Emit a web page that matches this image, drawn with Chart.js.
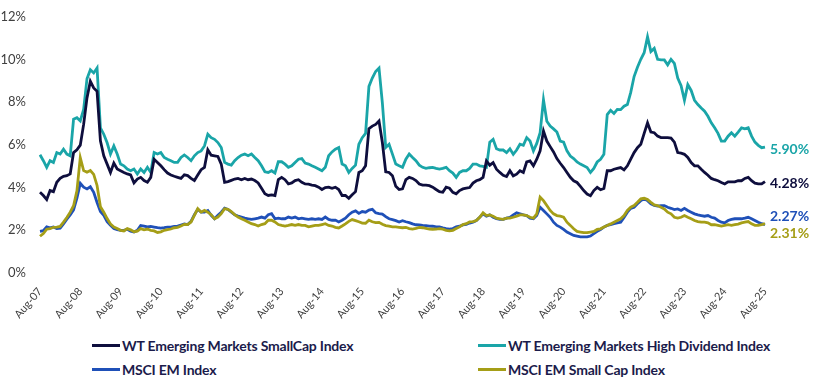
<!DOCTYPE html>
<html>
<head>
<meta charset="utf-8">
<script src="https://cdn.jsdelivr.net/npm/chart.js@4.4.1/dist/chart.umd.min.js"></script>
<style>
  body { margin: 0; background: #fff; font-family: Lato, 'Noto Sans', sans-serif; overflow: hidden; }
  #wrap { position: relative; width: 814px; height: 384px; overflow: hidden; }
  #chartBox { position: absolute; left: 0; top: -5px; width: 814px; height: 335px; }
  #legend { position: absolute; left: 92px; top: 335px; display: grid; grid-template-columns: 386px auto; row-gap: 4px; }
  .item { display: flex; align-items: center; height: 20px; font-weight: 700; font-size: 14px; letter-spacing: -0.2px; color: #1b1b4b; white-space: nowrap; }
  .swatch { width: 28px; height: 3px; margin-right: 2px; }
</style>
</head>
<body>
<div id="wrap">
  <div id="chartBox"><canvas id="chart"></canvas></div>
  <div id="legend"></div>
</div>
<script>
// Monthly series, Aug-07 .. Aug-25
const monthNames = ['Jan', 'Feb', 'Mar', 'Apr', 'May', 'Jun', 'Jul', 'Aug', 'Sep', 'Oct', 'Nov', 'Dec'];
const startYear = 2007;
const startMonth = 7; // August
const monthCount = 217;

// Only these categories get a label on the x axis
const tickLabels = ['Aug-07', 'Aug-08', 'Aug-09', 'Aug-10', 'Aug-11', 'Aug-12', 'Aug-13', 'Aug-14', 'Aug-15',
  'Aug-16', 'Aug-17', 'Aug-18', 'Aug-19', 'Aug-20', 'Aug-21', 'Aug-22', 'Aug-23', 'Aug-24', 'Aug-25'];

const seriesNames = [
  'WT Emerging Markets SmallCap Index',
  'WT Emerging Markets High Dividend Index',
  'MSCI EM Index',
  'MSCI EM Small Cap Index'
];

// WT Emerging Markets SmallCap Index
const wtSmallCap = [
  3.78, 3.63, 3.44, 3.86, 3.81, 4.25, 4.43, 4.53, 4.56, 4.64, 5.64, 5.77,
  5.99, 6.96, 8.2, 8.98, 8.67, 8.51, 6.19, 5.49, 5.1, 4.71, 5.15, 4.87,
  4.79, 4.71, 4.64, 4.59, 4.22, 4.4, 4.48, 4.33, 4.25, 4.48, 5.33, 5.18,
  5.02, 4.84, 4.68, 4.59, 4.53, 4.48, 4.43, 4.6, 4.56, 4.43, 4.33, 4.59,
  4.84, 4.95, 5.77, 5.52, 5.49, 5.46, 5.1, 4.25, 4.28, 4.34, 4.4, 4.43,
  4.37, 4.43, 4.37, 4.4, 4.33, 4.22, 3.97, 3.71, 3.63, 3.66, 3.63, 4.37,
  4.48, 4.37, 4.17, 4.22, 4.33, 4.37, 4.25, 4.17, 4.16, 4.12, 4.09, 4.02,
  3.91, 4.0, 4.02, 3.97, 4.02, 3.91, 3.63, 3.63, 3.5, 3.66, 3.81, 4.71,
  4.79, 5.02, 6.76, 6.88, 6.96, 7.12, 6.11, 4.74, 4.71, 4.56, 4.06, 3.91,
  3.94, 4.37, 4.48, 4.43, 4.33, 4.17, 4.12, 4.12, 4.09, 4.02, 3.91, 3.81,
  3.78, 4.02, 3.97, 3.78, 3.71, 3.86, 3.94, 3.97, 4.0, 4.21, 4.32, 4.37,
  4.48, 5.25, 5.05, 5.17, 4.86, 4.71, 4.58, 4.52, 4.79, 4.55, 4.63, 4.79,
  4.71, 5.2, 5.25, 5.02, 5.33, 5.72, 6.65, 6.18, 5.92, 5.67, 5.36, 5.14,
  4.94, 4.71, 4.48, 4.32, 4.24, 4.06, 3.86, 3.7, 3.62, 3.86, 4.01, 3.9,
  3.96, 4.79, 4.79, 4.86, 4.9, 4.94, 4.83, 5.02, 5.33, 5.64, 5.87, 6.03,
  6.54, 7.03, 6.6, 6.57, 6.41, 6.34, 6.34, 6.34, 6.32, 6.13, 5.64, 5.61,
  5.56, 5.41, 5.17, 5.02, 5.02, 4.86, 4.71, 4.58, 4.43, 4.37, 4.32, 4.24,
  4.17, 4.27, 4.27, 4.27, 4.32, 4.32, 4.43, 4.48, 4.32, 4.21, 4.17, 4.17,
  4.28
];

// WT Emerging Markets High Dividend Index
const wtHighDividend = [
  5.54, 5.26, 4.95, 5.26, 5.18, 5.64, 5.57, 5.8, 5.57, 5.49, 7.2, 7.27,
  7.12, 7.66, 9.1, 9.52, 9.37, 9.6, 6.8, 6.5, 6.1, 5.57, 5.95, 5.57,
  5.1, 5.02, 4.87, 4.79, 4.87, 4.64, 4.87, 4.71, 4.95, 4.71, 5.64, 5.57,
  5.64, 5.41, 5.33, 5.26, 5.18, 5.18, 5.41, 5.53, 5.41, 5.26, 5.49, 5.64,
  5.72, 5.95, 6.5, 6.34, 6.26, 6.11, 5.88, 5.18, 5.1, 5.05, 5.26, 5.41,
  5.52, 5.57, 5.49, 5.57, 5.41, 5.26, 5.02, 4.74, 4.71, 4.79, 4.68, 5.21,
  5.21, 5.1, 4.95, 5.02, 5.18, 5.33, 5.36, 5.15, 5.1, 5.02, 4.95, 4.87,
  4.79, 4.95, 5.49, 5.67, 5.8, 5.88, 5.1, 5.02, 4.71, 4.9, 5.05, 6.03,
  6.34, 6.54, 8.74, 9.13, 9.44, 9.6, 7.97, 5.88, 6.03, 5.57, 5.1, 5.02,
  4.95, 5.33, 5.57, 5.41, 5.26, 5.05, 4.95, 4.9, 4.93, 4.95, 4.9, 4.87,
  4.9, 4.95, 4.79, 4.68, 4.48, 4.71, 4.79, 4.79, 4.9, 5.1, 5.1, 5.02,
  4.99, 4.95, 6.13, 6.26, 5.82, 5.76, 5.76, 5.64, 5.82, 5.56, 5.76, 6.03,
  5.98, 6.34, 6.18, 5.72, 6.07, 6.57, 8.12, 7.11, 6.88, 6.75, 6.6, 6.18,
  6.13, 5.72, 5.48, 5.36, 5.2, 5.1, 5.02, 4.94, 4.71, 4.9, 5.2, 5.33,
  5.56, 7.42, 7.62, 7.47, 7.66, 7.65, 7.81, 7.89, 8.46, 9.2, 9.64, 10.01,
  10.32, 11.06, 10.37, 10.52, 10.01, 9.98, 9.98, 9.75, 10.01, 9.82, 9.13, 8.77,
  8.09, 8.82, 8.55, 8.09, 7.89, 7.73, 7.58, 7.34, 7.03, 6.8, 6.54, 6.18,
  6.18, 6.41, 6.57, 6.41, 6.6, 6.8, 6.75, 6.8, 6.41, 6.13, 5.98, 5.87,
  5.90
];

// MSCI EM Index
const msciEm = [
  1.95, 1.98, 2.16, 2.12, 2.16, 2.08, 2.1, 2.3, 2.52, 2.72, 2.95, 3.5,
  4.2, 4.02, 3.94, 4.04, 3.78, 3.3, 2.88, 2.7, 2.4, 2.23, 2.08, 2.03,
  2.0, 2.0, 2.05, 1.96, 1.92, 2.0, 2.22, 2.2, 2.16, 2.18, 2.15, 2.12,
  2.1, 2.12, 2.15, 2.15, 2.18, 2.2, 2.25, 2.3, 2.27, 2.42, 2.73, 2.98,
  2.85, 2.85, 2.93, 2.7, 2.54, 2.7, 2.85, 3.04, 2.98, 2.85, 2.73, 2.67,
  2.62, 2.57, 2.54, 2.51, 2.54, 2.57, 2.62, 2.57, 2.73, 2.78, 2.54, 2.57,
  2.54, 2.54, 2.62, 2.57, 2.62, 2.54, 2.57, 2.54, 2.51, 2.54, 2.51, 2.54,
  2.51, 2.62, 2.51, 2.47, 2.48, 2.39, 2.47, 2.57, 2.73, 2.85, 2.91, 2.79,
  2.88, 2.85, 2.95, 2.98, 2.82, 2.78, 2.76, 2.64, 2.54, 2.5, 2.45, 2.39,
  2.45, 2.4, 2.36, 2.3, 2.26, 2.25, 2.23, 2.22, 2.2, 2.19, 2.16, 2.16,
  2.11, 2.08, 2.06, 2.08, 2.16, 2.19, 2.25, 2.28, 2.34, 2.38, 2.46, 2.61,
  2.77, 2.66, 2.72, 2.61, 2.54, 2.51, 2.51, 2.57, 2.61, 2.72, 2.82, 2.77,
  2.72, 2.69, 2.57, 2.54, 2.69, 3.08, 2.93, 2.77, 2.61, 2.38, 2.23, 2.15,
  2.04, 1.92, 1.84, 1.76, 1.73, 1.69, 1.69, 1.69, 1.73, 1.84, 1.95, 2.04,
  2.15, 2.23, 2.26, 2.31, 2.35, 2.38, 2.6, 2.85, 3.03, 3.08, 3.24, 3.39,
  3.47, 3.39, 3.24, 3.16, 3.13, 3.16, 3.16, 3.08, 3.03, 2.97, 3.0, 2.93,
  3.03, 2.93, 2.85, 2.77, 2.72, 2.69, 2.66, 2.69, 2.61, 2.57, 2.46, 2.38,
  2.35, 2.46, 2.51, 2.54, 2.54, 2.54, 2.57, 2.61, 2.54, 2.46, 2.38, 2.31,
  2.27
];

// MSCI EM Small Cap Index
const msciEmSmallCap = [
  1.72, 1.85, 2.05, 2.08, 2.14, 2.15, 2.18, 2.38, 2.6, 2.85, 3.15, 3.85,
  5.4, 4.8, 4.72, 4.8, 4.62, 4.1, 3.1, 2.85, 2.55, 2.3, 2.15, 2.08,
  2.0, 1.97, 2.08, 2.02, 1.93, 1.96, 2.08, 2.02, 2.06, 2.0, 1.97, 1.9,
  1.93, 2.0, 2.03, 2.06, 2.12, 2.14, 2.2, 2.28, 2.27, 2.39, 2.7, 3.01,
  2.85, 2.93, 2.85, 2.73, 2.54, 2.62, 2.78, 3.01, 2.98, 2.88, 2.73, 2.62,
  2.54, 2.47, 2.39, 2.31, 2.27, 2.2, 2.27, 2.31, 2.47, 2.47, 2.39, 2.27,
  2.23, 2.2, 2.23, 2.27, 2.23, 2.27, 2.23, 2.23, 2.16, 2.2, 2.23, 2.23,
  2.27, 2.31, 2.23, 2.2, 2.14, 2.11, 2.2, 2.3, 2.42, 2.5, 2.45, 2.4,
  2.34, 2.33, 2.47, 2.4, 2.36, 2.37, 2.28, 2.22, 2.19, 2.16, 2.16, 2.14,
  2.12, 2.14, 2.08, 2.06, 2.09, 2.14, 2.12, 2.09, 2.06, 2.05, 2.06, 2.08,
  2.05, 2.0, 1.97, 2.0, 2.08, 2.16, 2.27, 2.31, 2.39, 2.41, 2.46, 2.61,
  2.82, 2.69, 2.72, 2.66, 2.57, 2.54, 2.51, 2.57, 2.57, 2.61, 2.66, 2.72,
  2.72, 2.69, 2.61, 2.57, 2.77, 3.55, 3.39, 3.16, 2.93, 2.77, 2.69, 2.66,
  2.61, 2.38, 2.23, 2.07, 1.95, 1.92, 1.89, 1.89, 1.92, 1.95, 2.04, 2.07,
  2.15, 2.23, 2.3, 2.38, 2.46, 2.54, 2.69, 2.93, 3.08, 3.16, 3.31, 3.47,
  3.5, 3.44, 3.31, 3.19, 3.16, 3.08, 3.0, 2.85, 2.77, 2.61, 2.57, 2.61,
  2.69, 2.61, 2.54, 2.46, 2.41, 2.38, 2.38, 2.35, 2.26, 2.26, 2.23, 2.2,
  2.23, 2.26, 2.23, 2.26, 2.29, 2.35, 2.38, 2.41, 2.3, 2.23, 2.23, 2.26,
  2.31
];

const colors = ['#0e0e3d', '#1aa5a8', '#1f50b8', '#a59e17'];

// Build month categories, e.g. "Aug-07"
const categories = [];
for (let i = 0; i < monthCount; i++) {
  const m = (startMonth + i) % 12;
  const y = startYear + Math.floor((startMonth + i) / 12);
  categories.push(monthNames[m] + '-' + String(y).slice(2));
}

// Value labels at the end of each line (vertical nudge so they don't collide)
const endLabelNudge = [2, 2, -8, 10];
const endLabels = {
  id: 'endLabels',
  afterDatasetsDraw(chart) {
    const ctx = chart.ctx;
    ctx.save();
    ctx.font = 'bold 14px Lato, sans-serif';
    ctx.textBaseline = 'middle';
    ctx.textAlign = 'left';
    chart.data.datasets.forEach((ds, i) => {
      const meta = chart.getDatasetMeta(i);
      const last = meta.data[meta.data.length - 1];
      const value = ds.data[ds.data.length - 1];
      ctx.fillStyle = ds.borderColor;
      ctx.fillText(value.toFixed(2) + '%', last.x + 5, last.y + endLabelNudge[i]);
    });
    ctx.restore();
  }
};

const allSeries = [wtSmallCap, wtHighDividend, msciEm, msciEmSmallCap];
// olive drawn on top, then blue, navy, teal
const drawOrder = [2, 3, 1, 0];

const datasets = allSeries.map((values, i) => ({
  label: seriesNames[i],
  data: values,
  borderColor: colors[i],
  backgroundColor: colors[i],
  borderWidth: 2.8,
  pointRadius: 0,
  tension: 0,
  order: drawOrder[i]
}));

new Chart(document.getElementById('chart'), {
  type: 'line',
  data: { labels: categories, datasets: datasets },
  options: {
    responsive: true,
    maintainAspectRatio: false,
    animation: false,
    layout: { padding: { top: 5, right: 49, left: 0, bottom: 0 } },
    plugins: {
      legend: { display: false },
      tooltip: { enabled: false }
    },
    scales: {
      x: {
        grid: { display: false, drawTicks: false },
        border: { display: false },
        afterFit(scale) { scale.height = 57; },
        ticks: {
          autoSkip: false,
          maxRotation: 50,
          minRotation: 50,
          padding: 12,
          color: '#404040',
          font: { family: 'Lato', size: 11 },
          callback(value) {
            const label = this.getLabelForValue(value);
            return tickLabels.includes(label) ? label : null;
          }
        }
      },
      y: {
        min: 0,
        max: 12,
        grid: { display: false, drawTicks: false },
        border: { display: false },
        afterFit(scale) { scale.width = 40; },
        ticks: {
          stepSize: 2,
          padding: 14,
          color: '#404040',
          font: { family: 'Lato', size: 13 },
          callback: v => v + '%'
        }
      }
    }
  },
  plugins: [endLabels]
});

// Legend in two columns under the chart
const legendEl = document.getElementById('legend');
seriesNames.forEach((name, i) => {
  const item = document.createElement('div');
  item.className = 'item';
  item.innerHTML = `<span class="swatch" style="background:${colors[i]}"></span>${name}`;
  legendEl.appendChild(item);
});
</script>
</body>
</html>
